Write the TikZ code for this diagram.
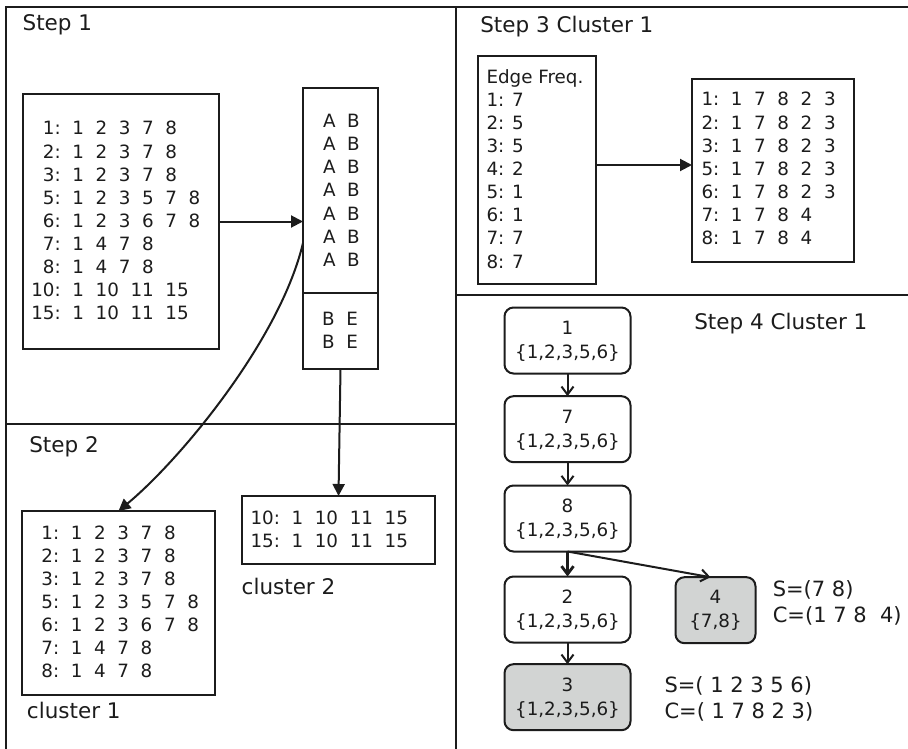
\documentclass[tikz,border=0pt]{standalone}
\usepackage{fontspec}
\setmainfont{DejaVu Sans}
\usetikzlibrary{arrows.meta}
\definecolor{ink}{RGB}{28,28,28}
\definecolor{shade}{RGB}{210,212,211}
\newcommand{\bodyfont}{\fontsize{18.3}{23.1}\selectfont}
\newcommand{\headfont}{\fontsize{21.5}{26}\selectfont}
\newcommand{\labfont}{\fontsize{21}{25.8}\selectfont}
\begin{document}
\begin{tikzpicture}[x=1pt,y=-1pt,
  frame/.style={draw=ink, line width=2pt},
  box/.style={draw=ink, line width=2pt, inner sep=0pt, outer sep=0pt, rectangle},
  tnode/.style={draw=ink, line width=2pt, rounded corners=9pt, minimum width=126pt, minimum height=66pt, inner sep=0pt, outer sep=0pt},
  txt/.style={inner sep=0pt, outer sep=0pt, text=ink, font=\bodyfont, anchor=base west},
  head/.style={inner sep=0pt, outer sep=0pt, text=ink, font=\headfont, anchor=base west},
  lab/.style={inner sep=0pt, outer sep=0pt, text=ink, font=\labfont, anchor=base west},
  conn/.style={draw=ink, line width=2pt, -{Triangle[length=12pt,width=12pt]}},
  tconn/.style={draw=ink, line width=2pt, -{Straight Barb[length=8pt,width=12pt]}},
]
\useasboundingbox (0,0) rectangle (908,749);
\fill[white] (0,0) rectangle (908,749);

% frame
\draw[frame] (6,749) -- (6,7) -- (908,7);
\draw[frame] (456,7) -- (456,749);
\draw[frame] (6,423.5) -- (456,423.5);
\draw[frame] (456,295) -- (908,295);

% headings
\node[head] (h1) at (22.6,31) {Step 1};
\node[head] (h2) at (29.3,452) {Step 2};
\node[head] (h3) at (480.3,32.7) {Step 3 Cluster 1};
\node[head] (h4) at (694.3,329.3) {Step 4 Cluster 1};
\node[head] (cl1) at (27,718) {cluster 1};
\node[head] (cl2) at (241.7,594) {cluster 2};

% Step 1 boxes
\node[box, minimum width=196pt, minimum height=255pt] (b1) at (121,221.5) {};
\node[box, minimum width=75pt, minimum height=205pt] (abtop) at (340.5,190.5) {};
\node[box, minimum width=75pt, minimum height=76pt] (abbot) at (340.5,331) {};

\node[txt] (t1) at (31.3,135) {\begin{tabular}[t]{@{}r@{~~}l@{}}
1: & 1~~2~~3~~7~~8\\
2: & 1~~2~~3~~7~~8\\
3: & 1~~2~~3~~7~~8\\
5: & 1~~2~~3~~5~~7~~8\\
6: & 1~~2~~3~~6~~7~~8\\
7: & 1~~4~~7~~8\\
8: & 1~~4~~7~~8\\
10: & 1~~10~~11~~15\\
15: & 1~~10~~11~~15
\end{tabular}};

\node[txt] (tab) at (323,127.7) {\begin{tabular}[t]{@{}l@{}}
A~~B\\ A~~B\\ A~~B\\ A~~B\\ A~~B\\ A~~B\\ A~~B
\end{tabular}};
\node[txt] (tbe) at (322.2,325) {\begin{tabular}[t]{@{}l@{}}
B~~E\\ B~~E
\end{tabular}};

% Step 2 boxes
\node[box, minimum width=193pt, minimum height=184pt] (c1) at (118.5,603) {};
\node[box, minimum width=193pt, minimum height=68pt] (c2) at (338.5,530) {};

\node[txt] (tc1) at (41.5,539) {\begin{tabular}[t]{@{}r@{~~}l@{}}
1: & 1~~2~~3~~7~~8\\
2: & 1~~2~~3~~7~~8\\
3: & 1~~2~~3~~7~~8\\
5: & 1~~2~~3~~5~~7~~8\\
6: & 1~~2~~3~~6~~7~~8\\
7: & 1~~4~~7~~8\\
8: & 1~~4~~7~~8
\end{tabular}};
\node[txt] (tc2) at (250.5,524) {\begin{tabular}[t]{@{}r@{~~}l@{}}
10: & 1~~10~~11~~15\\
15: & 1~~10~~11~~15
\end{tabular}};

% Step 1 connectors
\draw[conn] (b1.east) -- (b1.east -| abtop.west);
\coordinate (curvestart) at ([yshift=50pt]abtop.south west);
\draw[conn] (curvestart) .. controls (280,340) and (180,460) .. (c1.north);
\draw[conn] (abbot.south) -- (c2.north);

% Step 3
\node[box, minimum width=118pt, minimum height=228pt] (ef) at (537,170) {};
\node[box, minimum width=162pt, minimum height=183pt] (s3) at (773,170.5) {};
\node[txt] (tef) at (486.5,83.3) {\begin{tabular}[t]{@{}l@{}}
Edge Freq.\\
1: 7\\ 2: 5\\ 3: 5\\ 4: 2\\ 5: 1\\ 6: 1\\ 7: 7\\ 8: 7
\end{tabular}};
\node[txt] (ts3) at (701.5,106) {\begin{tabular}[t]{@{}r@{~~}l@{}}
1: & 1~~7~~8~~2~~3\\
2: & 1~~7~~8~~2~~3\\
3: & 1~~7~~8~~2~~3\\
5: & 1~~7~~8~~2~~3\\
6: & 1~~7~~8~~2~~3\\
7: & 1~~7~~8~~4\\
8: & 1~~7~~8~~4
\end{tabular}};
\coordinate (efout) at ([yshift=5pt]ef.east);
\draw[conn] (efout) -- (efout -| s3.west);

% Step 4 tree
\node[tnode] (n1) at (567.5,340.5) {};
\node[tnode] (n7) at (567.5,429.2) {};
\node[tnode] (n8) at (567.5,518.5) {};
\node[tnode] (n2) at (567.5,609.5) {};
\node[tnode, fill=shade] (n3) at (567.5,697.2) {};
\node[tnode, fill=shade, minimum width=80pt] (n4) at (715.5,610.2) {};

\node[txt, anchor=base] (n1a) at ([yshift=-27pt]n1.north) {1};
\node[txt, anchor=base] (n1b) at ([yshift=-51pt]n1.north) {\{1,2,3,5,6\}};
\node[txt, anchor=base] (n7a) at ([yshift=-27pt]n7.north) {7};
\node[txt, anchor=base] (n7b) at ([yshift=-51pt]n7.north) {\{1,2,3,5,6\}};
\node[txt, anchor=base] (n8a) at ([yshift=-27pt]n8.north) {8};
\node[txt, anchor=base] (n8b) at ([yshift=-51pt]n8.north) {\{1,2,3,5,6\}};
\node[txt, anchor=base] (n2a) at ([yshift=-27pt]n2.north) {2};
\node[txt, anchor=base] (n2b) at ([yshift=-51pt]n2.north) {\{1,2,3,5,6\}};
\node[txt, anchor=base] (n3a) at ([yshift=-27pt]n3.north) {3};
\node[txt, anchor=base] (n3b) at ([yshift=-51pt]n3.north) {\{1,2,3,5,6\}};
\node[txt, anchor=base] (n4a) at ([yshift=-26.5pt]n4.north) {4};
\node[txt, anchor=base] (n4b) at ([yshift=-50.5pt]n4.north) {\{7,8\}};

\draw[tconn] (n1.south) -- (n7.north);
\draw[tconn] (n7.south) -- (n8.north);
\draw[tconn, line width=2.8pt] (n8.south) -- (n2.north);
\draw[tconn] (n2.south) -- (n3.north);
\draw[tconn] (n8.south) -- ([xshift=-5pt]n4.north);

\node[lab] (lab4) at (772.8,596.7) {\begin{tabular}[t]{@{}l@{}}
S=(7 8)\\ C=(1 7 8~~4)
\end{tabular}};
\node[lab] (lab3) at (664.5,692.7) {\begin{tabular}[t]{@{}l@{}}
S=( 1 2 3 5 6)\\ C=( 1 7 8 2 3)
\end{tabular}};
\end{tikzpicture}
\end{document}
